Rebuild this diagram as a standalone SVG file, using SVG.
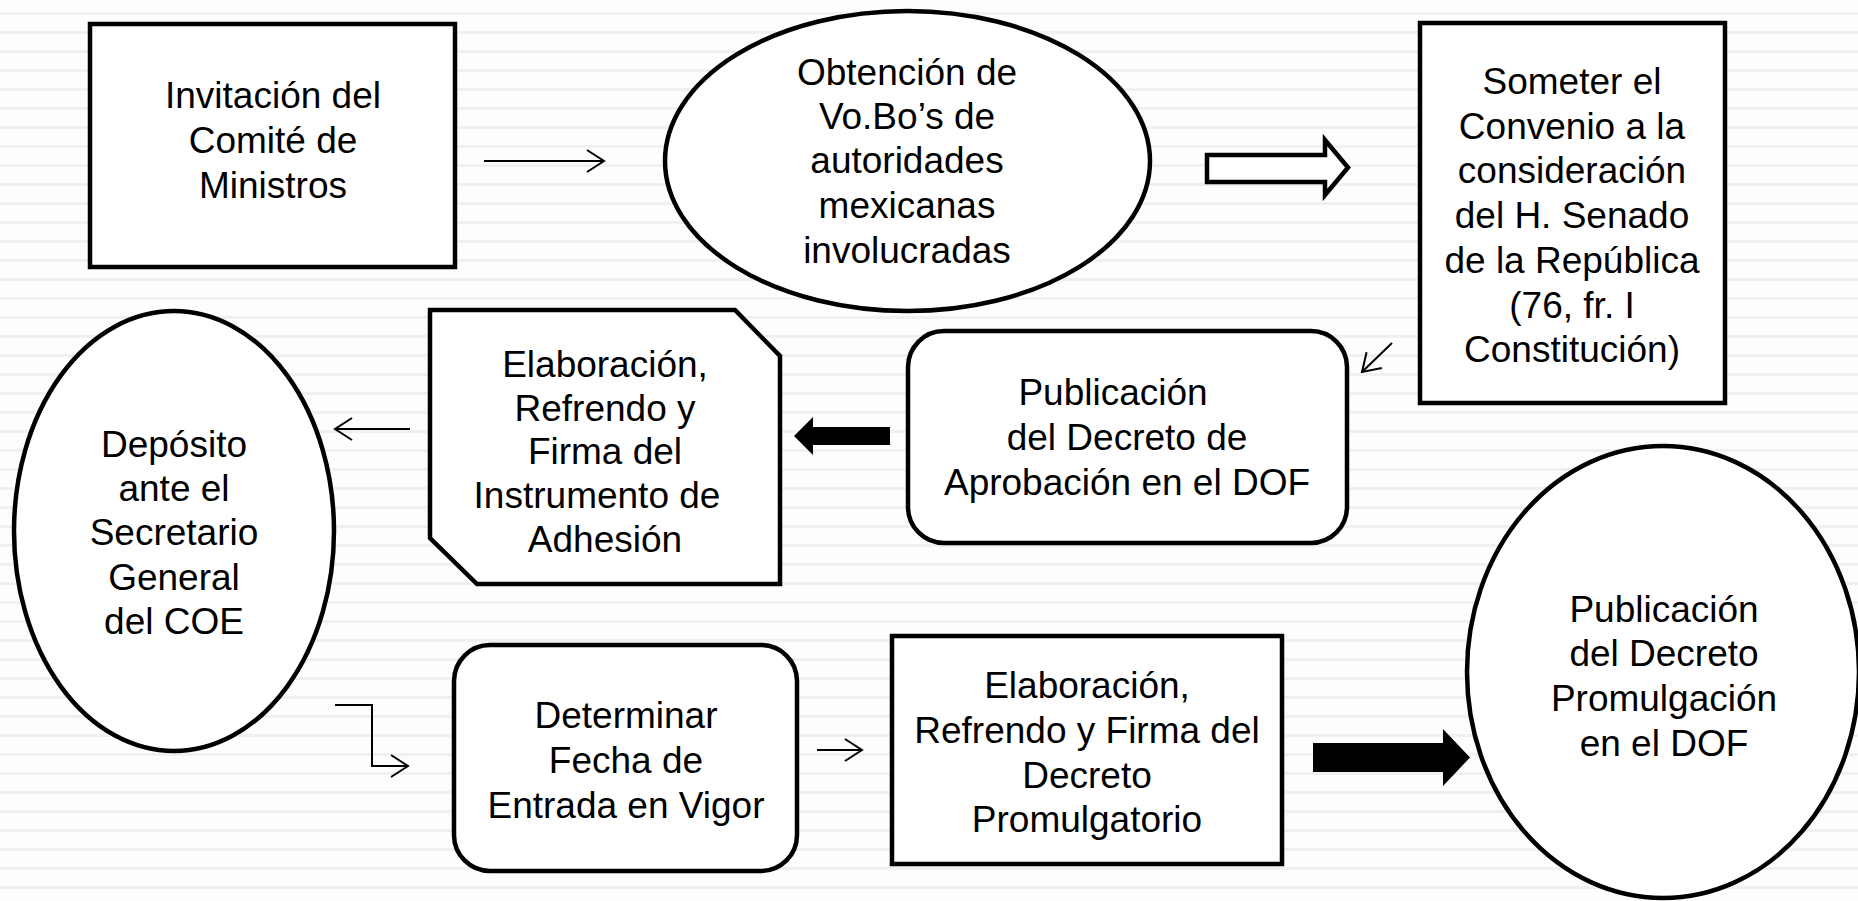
<svg xmlns="http://www.w3.org/2000/svg" width="1858" height="901" viewBox="0 0 1858 901">
<defs>
<pattern id="bg" x="0" y="0" width="40" height="19" patternUnits="userSpaceOnUse">
<rect width="40" height="19" fill="#fdfdfd"/>
<rect y="12" width="40" height="3" fill="#f0f0f0"/>
</pattern>
<marker id="open" viewBox="0 0 20 24" refX="18" refY="12" markerWidth="20" markerHeight="24" markerUnits="userSpaceOnUse" orient="auto">
<path d="M1,1 L18,12 L1,23" fill="none" stroke="#000" stroke-width="2"/>
</marker>
</defs>
<style>
.n{fill:#fff;stroke:#000;stroke-width:4.5}
.t{font-family:"Liberation Sans",Arial,sans-serif;font-size:37px;fill:#000;text-anchor:middle}
.c{fill:none;stroke:#000;stroke-width:2}
</style>
<rect width="1858" height="901" fill="url(#bg)"/>
<g id="connectors">
<line class="c" x1="484" y1="161" x2="604" y2="161" marker-end="url(#open)"/>
<path d="M1207,155 L1325,155 L1325,140 L1348,167.5 L1325,195 L1325,182 L1207,182 Z" fill="#fff" stroke="#000" stroke-width="4.5"/>
<line class="c" x1="1392" y1="343" x2="1362" y2="372" marker-end="url(#open)"/>
<line class="c" x1="410" y1="429" x2="335" y2="429" marker-end="url(#open)"/>
<path d="M890,427 L813,427 L813,417 L794,436 L813,455 L813,445 L890,445 Z" fill="#000"/>
<path class="c" d="M335,705 L372,705 L372,766 L408,766" marker-end="url(#open)"/>
<line class="c" x1="817" y1="750" x2="862" y2="750" marker-end="url(#open)"/>
<path d="M1313,743 L1443,743 L1443,729 L1470,757.5 L1443,786 L1443,772 L1313,772 Z" fill="#000"/>
</g>
<g id="n1">
<rect class="n" x="90" y="24" width="365" height="243"/>
<text class="t"><tspan x="273" y="108">Invitación del</tspan><tspan x="273" y="153">Comité de</tspan><tspan x="273" y="198">Ministros</tspan></text>
</g>
<g id="n2">
<ellipse class="n" cx="907.5" cy="161" rx="242.5" ry="150"/>
<text class="t"><tspan x="907" y="85">Obtención de</tspan><tspan x="907" y="129">Vo.Bo’s de</tspan><tspan x="907" y="173">autoridades</tspan><tspan x="907" y="218">mexicanas</tspan><tspan x="907" y="263">involucradas</tspan></text>
</g>
<g id="n3">
<rect class="n" x="1420" y="23" width="305" height="380"/>
<text class="t"><tspan x="1572" y="94">Someter el</tspan><tspan x="1572" y="139">Convenio a la</tspan><tspan x="1572" y="183">consideración</tspan><tspan x="1572" y="228">del H. Senado</tspan><tspan x="1572" y="273">de la República</tspan><tspan x="1572" y="318">(76, fr. I</tspan><tspan x="1572" y="362">Constitución)</tspan></text>
</g>
<g id="n4">
<rect class="n" x="908" y="331" width="439" height="212" rx="36" ry="36"/>
<text class="t"><tspan x="1113" y="405">Publicación</tspan><tspan x="1127" y="450">del Decreto de</tspan><tspan x="1127" y="495">Aprobación en el DOF</tspan></text>
</g>
<g id="n5">
<path class="n" d="M430,310 L735,310 L780,356 L780,584 L477,584 L430,538 Z"/>
<text class="t"><tspan x="605" y="377">Elaboración,</tspan><tspan x="605" y="421">Refrendo y</tspan><tspan x="605" y="464">Firma del</tspan><tspan x="597" y="508">Instrumento de</tspan><tspan x="605" y="552">Adhesión</tspan></text>
</g>
<g id="n6">
<ellipse class="n" cx="174" cy="531" rx="160" ry="220"/>
<text class="t"><tspan x="174" y="457">Depósito</tspan><tspan x="174" y="501">ante el</tspan><tspan x="174" y="545">Secretario</tspan><tspan x="174" y="590">General</tspan><tspan x="174" y="634">del COE</tspan></text>
</g>
<g id="n7">
<rect class="n" x="454" y="645" width="343" height="226" rx="36" ry="36"/>
<text class="t"><tspan x="626" y="728">Determinar</tspan><tspan x="626" y="773">Fecha de</tspan><tspan x="626" y="818">Entrada en Vigor</tspan></text>
</g>
<g id="n8">
<rect class="n" x="892" y="636" width="390" height="228"/>
<text class="t"><tspan x="1087" y="698">Elaboración,</tspan><tspan x="1087" y="743">Refrendo y Firma del</tspan><tspan x="1087" y="788">Decreto</tspan><tspan x="1087" y="832">Promulgatorio</tspan></text>
</g>
<g id="n9">
<ellipse class="n" cx="1663" cy="672" rx="196" ry="226"/>
<text class="t"><tspan x="1664" y="622">Publicación</tspan><tspan x="1664" y="666">del Decreto</tspan><tspan x="1664" y="711">Promulgación</tspan><tspan x="1664" y="756">en el DOF</tspan></text>
</g>
</svg>
